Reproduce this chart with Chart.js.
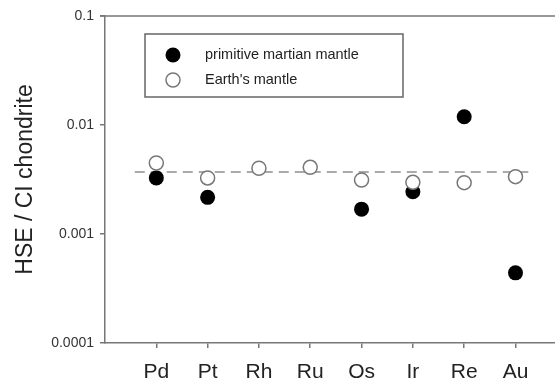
<!DOCTYPE html>
<html>
<head>
<meta charset="utf-8">
<script src="https://cdn.jsdelivr.net/npm/chart.js@4"></script>
<style>
  html, body { margin: 0; padding: 0; background: #fff; }
  #wrap { width: 555px; height: 384px; }
</style>
</head>
<body>
<div id="wrap"><canvas id="myChart" width="555" height="384"></canvas></div>
<script>
let categories = ['Pd', 'Pt', 'Rh', 'Ru', 'Os', 'Ir', 'Re', 'Au']
let martianMantle = [0.00327, 0.00217, null, null, 0.00169, 0.00244, 0.0119, 0.00044]
let earthMantle = [0.00448, 0.00327, 0.00401, 0.00409, 0.00313, 0.00298, 0.00296, 0.00336]
let refLevel = 0.0037
let yTicks = [0.0001, 0.001, 0.01, 0.1]

let font = "'Liberation Sans', Arial, sans-serif"

function toPoints(arr){
    let pts = []
    arr.forEach((v, i) => {
        if (v !== null) pts.push({ x: i + 1, y: v })
    })
    return pts
}

// top frame line + legend box drawn on the canvas
let framePlugin = {
    id: 'frame',
    afterDraw(chart){
        let ctx = chart.ctx
        let a = chart.chartArea
        ctx.save()
        ctx.strokeStyle = '#777'
        ctx.lineWidth = 1.5
        ctx.beginPath()
        ctx.moveTo(a.left - 5, a.top)
        ctx.lineTo(a.right, a.top)
        ctx.stroke()

        // legend
        ctx.strokeStyle = '#666'
        ctx.lineWidth = 1.5
        ctx.strokeRect(145, 34, 258, 63)

        ctx.fillStyle = '#000'
        ctx.beginPath()
        ctx.arc(173, 55, 7.5, 0, Math.PI * 2)
        ctx.fill()

        ctx.fillStyle = '#fff'
        ctx.strokeStyle = '#777'
        ctx.beginPath()
        ctx.arc(173, 80, 7, 0, Math.PI * 2)
        ctx.fill()
        ctx.stroke()

        ctx.fillStyle = '#222'
        ctx.font = '14.5px ' + font
        ctx.textBaseline = 'middle'
        ctx.fillText('primitive martian mantle', 205, 55)
        ctx.fillText("Earth's mantle", 205, 80)
        ctx.restore()
    }
}

new Chart('myChart', {
    type: 'scatter',
    data: {
        datasets: [{
            label: 'primitive martian mantle',
            data: toPoints(martianMantle),
            pointRadius: 7.5,
            pointBackgroundColor: '#000',
            pointBorderColor: '#000',
            pointBorderWidth: 0,
            order: 2
        }, {
            label: "Earth's mantle",
            data: toPoints(earthMantle),
            pointRadius: 7,
            pointBackgroundColor: '#fff',
            pointBorderColor: '#777',
            pointBorderWidth: 1.5,
            order: 1
        }, {
            type: 'line',
            label: 'reference',
            data: [{ x: 0.58, y: refLevel }, { x: 8.25, y: refLevel }],
            borderColor: '#aaa',
            borderWidth: 2,
            borderDash: [10, 6],
            pointRadius: 0,
            fill: false,
            order: 3
        }]
    },
    options: {
        responsive: false,
        animation: false,
        layout: { autoPadding: false, padding: { top: 16, right: 0, left: 0, bottom: 0 } },
        plugins: {
            legend: { display: false },
            tooltip: { enabled: false }
        },
        scales: {
            x: {
                type: 'linear',
                min: 0,
                max: 8.77,
                afterBuildTicks: (scale) => {
                    scale.ticks = categories.map((c, i) => ({ value: i + 1 }))
                },
                afterFit: (scale) => {
                    scale.height = 41
                    scale.paddingRight = 0
                    scale.paddingLeft = 0
                },
                grid: { drawOnChartArea: false, drawTicks: true, tickLength: 5, color: '#777', lineWidth: 1.5 },
                border: { display: true, color: '#777', width: 1.5 },
                ticks: {
                    color: '#222',
                    font: { family: font, size: 21 },
                    padding: 12,
                    maxRotation: 0,
                    autoSkip: false,
                    callback: (v) => categories[v - 1] || ''
                }
            },
            y: {
                type: 'logarithmic',
                min: 0.0001,
                max: 0.1,
                afterBuildTicks: (scale) => {
                    scale.ticks = yTicks.map(v => ({ value: v }))
                },
                afterFit: (scale) => {
                    scale.width = 105
                    scale.paddingTop = 0
                    scale.paddingBottom = 0
                },
                grid: { drawOnChartArea: false, drawTicks: true, tickLength: 5, color: '#777', lineWidth: 1.5 },
                border: { display: true, color: '#777', width: 1.5 },
                title: {
                    display: true,
                    text: 'HSE / CI chondrite',
                    color: '#222',
                    font: { family: font, size: 23 },
                    padding: { top: 12, bottom: 0 }
                },
                ticks: {
                    color: '#333',
                    font: { family: font, size: 14 },
                    padding: 6,
                    autoSkip: false,
                    callback: (v) => String(v)
                }
            }
        }
    },
    plugins: [framePlugin]
})
</script>
</body>
</html>
